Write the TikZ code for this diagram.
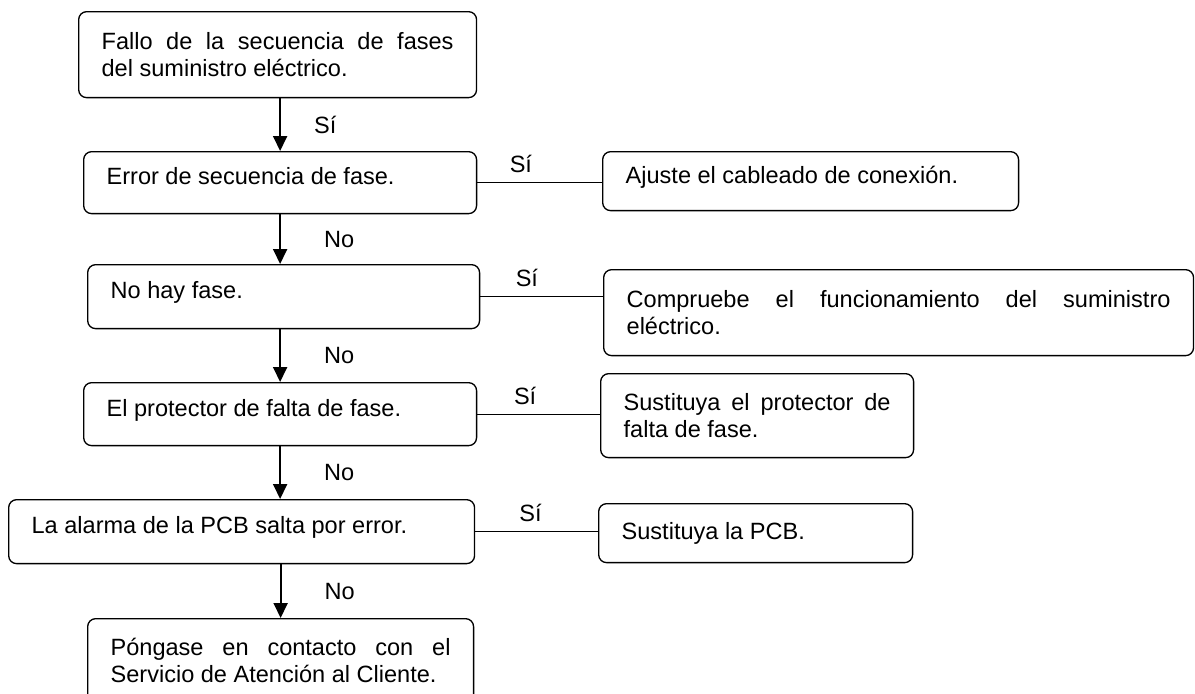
\documentclass[tikz,border=0pt]{standalone}
\usepackage{fontspec}
\setmainfont{Liberation Sans}
\usetikzlibrary{arrows.meta}
\begin{document}
\begin{tikzpicture}[x=0.02cm, y=-0.02cm,
  box/.style={draw, rounded corners=0.16cm, line width=0.75pt, inner xsep=0.46cm, inner ysep=0pt, align=justify, anchor=north west, font=\fontsize{13.4}{15.3}\selectfont},
  onerow/.style={text depth=0.26cm},
  lbl/.style={inner sep=0pt, font=\fontsize{13.4}{15.3}\selectfont},
  arr/.style={-{Triangle[width=0.28cm, length=0.3cm]}, line width=1.1pt},
  link/.style={line width=0.65pt}]
  \useasboundingbox (0,0) rectangle (1195,693);
  \node[box, text width=7.04cm, minimum height=1.72cm] (n1) at (78,11) {Fallo de la secuencia de fases\linebreak del suministro eléctrico.};
  \node[box, onerow, text width=6.94cm, minimum height=1.24cm] (n2) at (83,151) {Error de secuencia de fase.};
  \node[box, onerow, text width=6.92cm, minimum height=1.28cm] (n3) at (87,264) {No hay fase.};
  \node[box, onerow, text width=6.94cm, minimum height=1.26cm] (n4) at (83,382) {El protector de falta de fase.};
  \node[box, onerow, text width=8.40cm, minimum height=1.28cm] (n5) at (8,499) {La alarma de la PCB salta por error.};
  \node[box, text width=6.80cm, minimum height=1.68cm] (n6) at (87,618) {Póngase en contacto con el\linebreak Servicio de Atención al Cliente.};
  \node[box, onerow, text width=7.40cm, minimum height=1.18cm] (rA) at (602,151) {Ajuste el cableado de conexión.};
  \node[box, text width=10.88cm, minimum height=1.72cm] (rB) at (603,269) {Compruebe el funcionamiento del suministro\linebreak eléctrico.};
  \node[box, text width=5.34cm, minimum height=1.68cm] (rC) at (600,373) {Sustituya el protector de\linebreak falta de fase.};
  \node[box, text width=5.36cm, minimum height=1.18cm] (rD) at (598,503) {Sustituya la PCB.};
  \draw[arr] (n1.south -| n2.north) -- node[lbl, right=0.66cm] {Sí} (n2.north);
  \draw[arr] (n2.south) -- node[lbl, right=0.86cm] {No} (n2.south |- n3.north);
  \draw[arr] (n4.north |- n3.south) -- node[lbl, right=0.86cm] {No} (n4.north);
  \draw[arr] (n4.south) -- node[lbl, right=0.86cm] {No} (n4.south |- n5.north);
  \draw[arr] (n6.north |- n5.south) -- node[lbl, right=0.86cm] {No} (n6.north);
  \draw[link] (n2.east) -- node[lbl, above=0.18cm, pos=0.35] {Sí} (n2.east -| rA.west);
  \draw[link] (n3.east) -- node[lbl, above=0.18cm, pos=0.38] {Sí} (n3.east -| rB.west);
  \draw[link] (n4.east) -- node[lbl, above=0.18cm, pos=0.39] {Sí} (n4.east -| rC.west);
  \draw[link] (n5.east) -- node[lbl, above=0.18cm, pos=0.45] {Sí} (n5.east -| rD.west);
\end{tikzpicture}
\end{document}
